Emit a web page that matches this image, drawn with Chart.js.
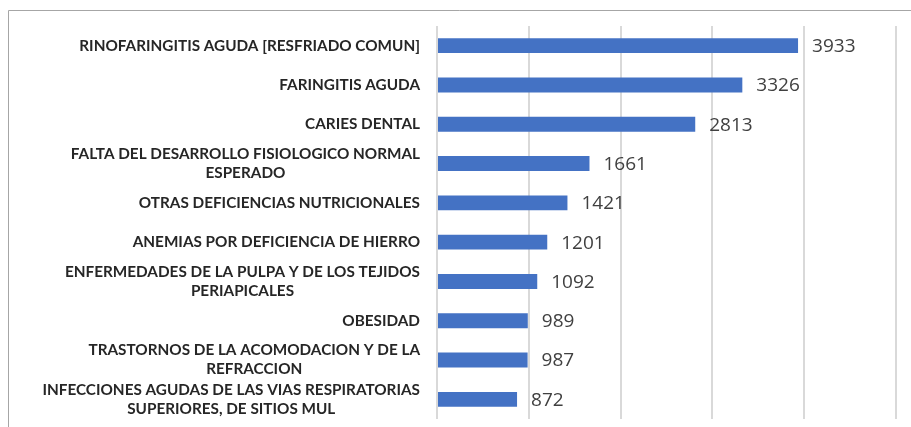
<!DOCTYPE html>
<html>
<head>
<meta charset="utf-8">
<script src="https://cdn.jsdelivr.net/npm/chart.js@4"></script>
<style>
  html, body { margin: 0; padding: 0; background: #fff; }
  #wrap { width: 911px; height: 427px; }
</style>
</head>
<body>
<div id="wrap"><canvas id="chart"></canvas></div>
<script>
// categories, top to bottom (each entry = lines of the label)
const categories = [
  ['RINOFARINGITIS AGUDA [RESFRIADO COMUN]'],
  ['FARINGITIS AGUDA'],
  ['CARIES DENTAL'],
  ['FALTA DEL DESARROLLO FISIOLOGICO NORMAL', 'ESPERADO'],
  ['OTRAS DEFICIENCIAS NUTRICIONALES'],
  ['ANEMIAS POR DEFICIENCIA DE HIERRO'],
  ['ENFERMEDADES DE LA PULPA Y DE LOS TEJIDOS', 'PERIAPICALES'],
  ['OBESIDAD'],
  ['TRASTORNOS DE LA ACOMODACION Y DE LA', 'REFRACCION'],
  ['INFECCIONES AGUDAS DE LAS VIAS RESPIRATORIAS', 'SUPERIORES, DE SITIOS MUL']
];
const values = [3933, 3326, 2813, 1661, 1421, 1201, 1092, 989, 987, 872];
const xMin = 0;
const xMax = 5000;
const xStep = 1000;

const frame = {
  id: 'frame',
  beforeDraw(chart) {
    const ctx = chart.ctx;
    ctx.save();
    ctx.strokeStyle = '#a6a6a6';
    ctx.lineWidth = 1;
    ctx.beginPath();
    ctx.moveTo(8.5, 427);
    ctx.lineTo(8.5, 10.5);
    ctx.lineTo(911, 10.5);
    ctx.stroke();
    ctx.restore();
  }
};

// category labels: right aligned block, lines centred on each other
const catLabels = {
  id: 'catLabels',
  afterDraw(chart) {
    const ctx = chart.ctx;
    const y = chart.scales.y;
    const right = chart.chartArea.left - 17;
    const lh = 19;
    ctx.save();
    ctx.font = 'bold 15.3px Lato';
    ctx.fillStyle = '#262626';
    ctx.textAlign = 'center';
    ctx.textBaseline = 'middle';
    categories.forEach((lines, i) => {
      const w = Math.max(...lines.map(l => ctx.measureText(l).width));
      const cx = right - w / 2;
      const cy = y.getPixelForValue(i);
      lines.forEach((l, j) => {
        ctx.fillText(l, cx, cy + (j - (lines.length - 1) / 2) * lh);
      });
    });
    ctx.restore();
  }
};

const valueLabels = {
  id: 'valueLabels',
  afterDatasetsDraw(chart) {
    const ctx = chart.ctx;
    ctx.save();
    ctx.font = '19px "Open Sans"';
    ctx.fillStyle = '#404040';
    ctx.textAlign = 'left';
    ctx.textBaseline = 'middle';
    chart.getDatasetMeta(0).data.forEach((bar, i) => {
      ctx.fillText(String(values[i]), bar.x + 14, bar.y + 1);
    });
    ctx.restore();
  }
};

new Chart(document.getElementById('chart'), {
  type: 'bar',
  data: {
    labels: categories,
    datasets: [{
      data: values,
      backgroundColor: '#4472C4',
      borderWidth: 0,
      categoryPercentage: 0.38,
      barPercentage: 1
    }]
  },
  options: {
    indexAxis: 'y',
    responsive: true,
    maintainAspectRatio: false,
    animation: false,
    layout: { padding: { left: 437, right: 15, top: 26, bottom: 8 } },
    plugins: {
      legend: { display: false },
      tooltip: { enabled: false }
    },
    scales: {
      x: {
        min: xMin,
        max: xMax,
        ticks: { display: false, stepSize: xStep },
        grid: { color: '#d9d9d9', lineWidth: 2, drawTicks: false },
        border: { display: false }
      },
      y: {
        ticks: { display: false },
        grid: { display: false, drawTicks: false },
        border: { display: false }
      }
    }
  },
  plugins: [frame, catLabels, valueLabels]
});
</script>
</body>
</html>
